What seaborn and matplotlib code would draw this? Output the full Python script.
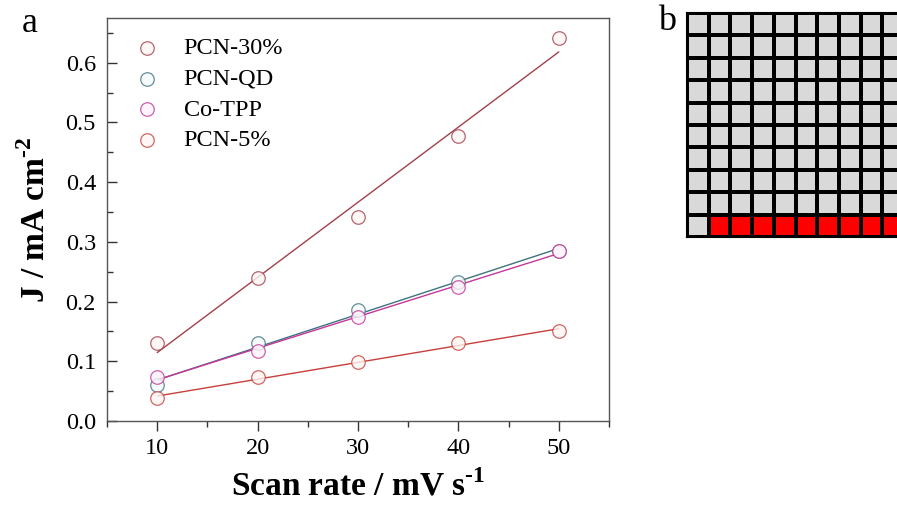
import numpy as np
import pandas as pd
import matplotlib
matplotlib.use("Agg")
import matplotlib.pyplot as plt
from matplotlib.colors import ListedColormap
from matplotlib.ticker import MultipleLocator, FormatStrFormatter
import seaborn as sns

# Scan rates (mV/s) and current densities (mA/cm^2)
scan_rate = [10, 20, 30, 40, 50]
j_pcn30 = [0.131, 0.240, 0.342, 0.477, 0.642]
j_pcnqd = [0.060, 0.131, 0.186, 0.232, 0.285]
j_cotpp = [0.073, 0.118, 0.174, 0.225, 0.284]
j_pcn5 = [0.038, 0.073, 0.099, 0.131, 0.150]

series_names = ["PCN-30%", "PCN-QD", "Co-TPP", "PCN-5%"]
series_values = [j_pcn30, j_pcnqd, j_cotpp, j_pcn5]
edge_colors = ["#a3404c", "#3f7380", "#c4389a", "#c8403c"]
fill_colors = ["#fef6f4", "#f3f9fa", "#fdf3fa", "#fef5f3"]

# Waffle grid: 10 x 10 cells, last row mostly highlighted
waffle_rows = 10
waffle_cols = 10
highlighted_cells = 9

sns.set_theme(style="white")
plt.rcParams["font.family"] = ["Liberation Serif", "DejaVu Serif"]
plt.rcParams["mathtext.fontset"] = "custom"
plt.rcParams["mathtext.rm"] = "Liberation Serif"
plt.rcParams["mathtext.bf"] = "Liberation Serif:bold"
plt.rcParams["text.color"] = "black"
plt.rcParams["axes.labelcolor"] = "black"

fig = plt.figure(figsize=(8.97, 5.13), dpi=100)

# ---- panel a: current density vs scan rate ----
ax = fig.add_axes([107 / 897, 1 - 421 / 513, 502 / 897, 403 / 513])
for name, vals, ec, fc in zip(series_names, series_values, edge_colors, fill_colors):
    df = pd.DataFrame({"rate": scan_rate, "J": vals})
    sns.regplot(data=df, x="rate", y="J", ax=ax, ci=None, label=name,
                scatter_kws=dict(s=95, facecolors=fc, edgecolors=ec,
                                 linewidths=0.9, zorder=3),
                line_kws=dict(color=ec, lw=1.0, zorder=2))

ax.set_xlim(5, 55)
ax.set_ylim(0, 0.675)
ax.xaxis.set_major_locator(MultipleLocator(10))
ax.xaxis.set_minor_locator(MultipleLocator(5))
ax.yaxis.set_major_locator(MultipleLocator(0.1))
ax.yaxis.set_minor_locator(MultipleLocator(0.05))
ax.yaxis.set_major_formatter(FormatStrFormatter("%.1f"))
ax.tick_params(axis="x", which="both", direction="out", bottom=True, top=False,
               colors="#333333", labelcolor="black", labelsize=17.5, pad=5)
ax.tick_params(axis="x", which="major", length=7, width=1)
ax.tick_params(axis="x", which="minor", length=4, width=1)
ax.tick_params(axis="y", which="both", direction="in", left=True, right=False,
               colors="#333333", labelcolor="black", labelsize=17.5, pad=8)
ax.tick_params(axis="y", which="major", length=7, width=1)
ax.tick_params(axis="y", which="minor", length=4, width=1)
for sp in ax.spines.values():
    sp.set_visible(True)
    sp.set_color("#555555")
    sp.set_linewidth(1.0)

ax.set_xlabel("Scan rate / mV s$^{\\mathbf{\u2010 1}}$", fontsize=24, fontweight="bold", labelpad=8)
ax.set_ylabel("J / mA cm$^{\\mathbf{\u2010 2}}$", fontsize=24, fontweight="bold", labelpad=10)

leg = ax.legend(loc="upper left", frameon=False, fontsize=17.5,
                bbox_to_anchor=(0.012, 1.0), borderaxespad=0.4,
                handlelength=1.2, handletextpad=0.9, labelspacing=0.35,
                markerscale=1.0)

fig.text(22 / 897, 1 - 32 / 513, "a", fontsize=26)

# ---- panel b: 10x10 waffle grid ----
grid = np.zeros((waffle_rows, waffle_cols))
grid[-1, waffle_cols - highlighted_cells:] = 1
axb = fig.add_axes([687 / 897, 1 - 237 / 513, 217 / 897, 224 / 513])
sns.heatmap(grid, ax=axb, cmap=ListedColormap(["#d9d9d9", "#ff0000"]),
            vmin=0, vmax=1, cbar=False, linewidths=1.5, linecolor="black",
            xticklabels=False, yticklabels=False)
for sp in axb.spines.values():
    sp.set_visible(True)
    sp.set_color("black")
    sp.set_linewidth(1.5)
fig.text(658 / 897, 1 - 30 / 513, "b", fontsize=26)

fig.savefig("out.png", dpi=100)
